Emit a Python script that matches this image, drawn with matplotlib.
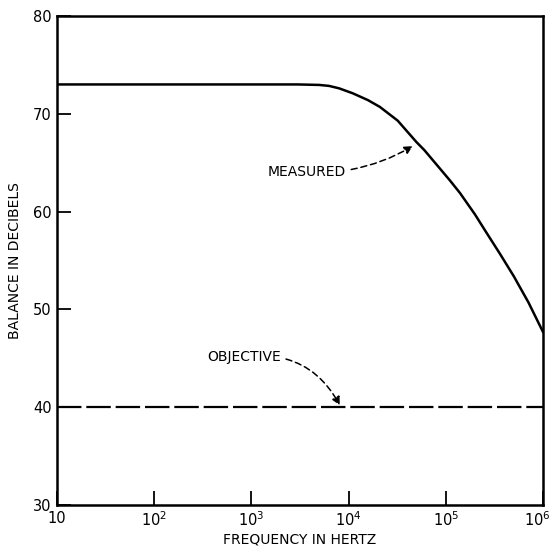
import matplotlib
matplotlib.use("Agg")
import matplotlib.pyplot as plt
import matplotlib.transforms as mtransforms

plt.rcParams['font.family'] = ['DejaVu Sans']
plt.rcParams['mathtext.default'] = 'regular'

# measured balance
freq = [10, 100, 1000, 3000, 5000, 6300, 8000, 11000, 15800, 21000, 32000,
        50000, 60000, 110000, 140000, 200000, 260000, 360000, 500000,
        710000, 1000000]
balance = [73.0, 73.0, 73.0, 73.0, 72.95, 72.85, 72.6, 72.1, 71.4, 70.7,
           69.3, 67.1, 66.3, 63.2, 61.9, 59.7, 57.9, 55.7, 53.4,
           50.7, 47.7]

# objective line
obj_freq = [10, 1000000]
obj_balance = [40, 40]

xticks = [10, 100, 1000, 10000, 100000, 1000000]
xlabels = ['10', '$10^2$', '$10^3$', '$10^4$', '$10^5$', '$10^6$']
yticks = [30, 40, 50, 60, 70, 80]

fig = plt.figure(figsize=(5.54, 5.53), dpi=100)
ax = fig.add_axes([0.1029, 0.0868, 0.8772, 0.8843])

ax.plot(freq, balance, color='black', lw=1.8, solid_joinstyle='round')
ax.plot(obj_freq, obj_balance, color='black', lw=1.6, linestyle=(0, (11, 2.2)))

ax.set_xscale('log')
ax.set_xlim(10, 1e6)
ax.set_ylim(30, 80)
ax.set_xticks(xticks)
ax.set_xticklabels(xlabels)
ax.minorticks_off()
ax.set_yticks(yticks)
ax.tick_params(direction='in', length=10, width=1.3, labelsize=10.5, pad=4)

# keep the last tick label inside the picture
last = ax.get_xticklabels()[-1]
last.set_transform(last.get_transform() +
                   mtransforms.ScaledTranslation(-6 / 100, 0, fig.dpi_scale_trans))

for s in ax.spines.values():
    s.set_linewidth(1.8)

ax.set_xlabel('FREQUENCY IN HERTZ', fontsize=10, labelpad=2)
ax.set_ylabel('BALANCE IN DECIBELS', fontsize=10, labelpad=8)

ax.annotate('MEASURED', xy=(10**4.66, 66.7), xytext=(10**3.97, 64.0),
            ha='right', va='center', fontsize=10,
            arrowprops=dict(arrowstyle='-|>', color='black', lw=1.1,
                            linestyle=(0, (4, 2.5)), mutation_scale=12,
                            connectionstyle='arc3,rad=0.15', shrinkA=2, shrinkB=0))
ax.annotate('OBJECTIVE', xy=(10**3.91, 40.2), xytext=(10**3.30, 45.1),
            ha='right', va='center', fontsize=10,
            arrowprops=dict(arrowstyle='-|>', color='black', lw=1.1,
                            linestyle=(0, (4, 2.5)), mutation_scale=12,
                            connectionstyle='arc3,rad=-0.35', shrinkA=2, shrinkB=0))

fig.savefig('out.png', dpi=100)
